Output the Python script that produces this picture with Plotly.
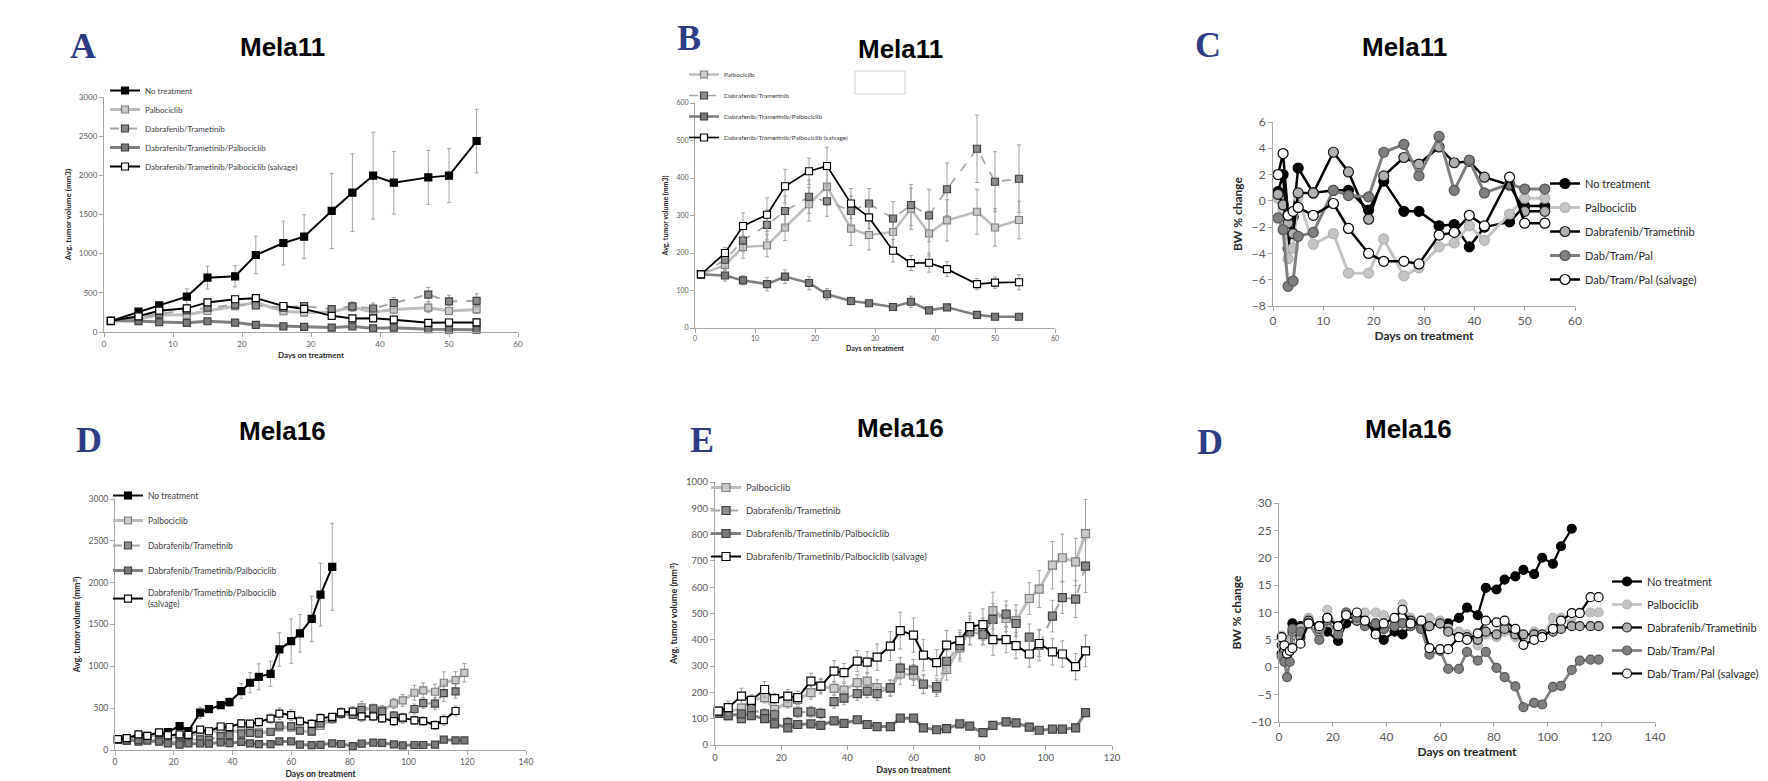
import plotly.graph_objects as go

W, H = 1768, 781

# ---------------- data: Mela11 tumour volume (panels A, B) ----------------
days11 = [1, 5, 8, 12, 15, 19, 22, 26, 29, 33, 36, 39, 42, 47, 50, 54]
tv11_none = [140, 260, 340, 451, 694, 711, 983, 1136, 1217, 1545, 1779, 1996, 1906, 1974, 1996, 2438]
tv11_none_err = [10, 20, 30, 100, 145, 135, 240, 280, 280, 480, 495, 555, 400, 345, 345, 405]
tv11_palbo = [143, 168, 216, 220, 268, 330, 377, 265, 248, 256, 318, 252, 287, 310, 268, 288]
tv11_palbo_err = [5, 15, 30, 30, 35, 45, 50, 45, 40, 40, 55, 60, 55, 60, 50, 50]
tv11_dt = [143, 182, 233, 275, 312, 350, 338, 312, 332, 292, 328, 300, 370, 478, 390, 398]
tv11_dt_err = [5, 20, 30, 40, 40, 45, 40, 40, 40, 45, 55, 70, 70, 90, 80, 90]
tv11_dtp = [143, 140, 127, 117, 137, 120, 90, 72, 66, 56, 70, 47, 55, 35, 30, 30]
tv11_dtp_err = [5, 15, 12, 18, 18, 18, 15, 10, 8, 8, 15, 8, 8, 5, 5, 8]
tv11_sal = [143, 200, 272, 302, 378, 418, 432, 332, 295, 206, 173, 174, 157, 117, 121, 122]
tv11_sal_err = [5, 15, 35, 45, 45, 35, 50, 40, 30, 30, 20, 25, 20, 15, 15, 20]

# ---------------- data: Mela11 body weight (panel C) ----------------
days_bw11 = [1, 2, 3, 4, 5, 8, 12, 15, 19, 22, 26, 29, 33, 36, 39, 42, 47, 50, 54]
bw11_none = [0.7, 2.0, -3.6, -1.2, 2.5, 0.6, 0.8, 0.8, -0.7, 1.5, -0.8, -0.8, -1.9, -1.8, -3.5, -2.0, -1.6, -0.4, -0.4]
bw11_palbo = [0.2, -0.6, -4.4, -3.6, 0.3, -3.3, -2.5, -5.5, -5.5, -2.9, -5.7, -5.1, -3.5, -3.2, -1.9, -3.0, -1.0, 0.2, 0.2]
bw11_dt = [0.5, -0.3, -1.7, -2.5, 0.6, 0.6, 3.7, 2.2, -1.4, 1.9, 3.3, 2.8, 4.1, 2.9, 3.0, 1.8, 1.2, -0.8, -0.8]
bw11_dtp = [-1.3, -2.2, -6.5, -6.1, -2.7, -2.4, 0.8, 0.4, 0.3, 3.7, 4.3, 1.9, 4.9, 0.8, 3.1, 0.6, 1.3, 0.9, 0.9]
bw11_sal = [2.0, 3.6, -1.1, -0.8, -0.5, -1.1, -0.2, -2.1, -4.0, -4.6, -4.6, -4.8, -2.6, -2.4, -1.1, -1.9, 1.8, -1.7, -1.7]

# ---------------- data: Mela16 tumour volume (panels D, E) ----------------
days16 = [1, 4, 8, 11, 15, 18, 22, 25, 29, 32, 36, 39, 43, 46, 49, 53, 56, 60, 63, 67, 70, 74,
          77, 81, 84, 88, 91, 95, 98, 102, 105, 109, 112, 116, 119]
tv16_none = [127, 135, 150, 160, 185, 215, 287, 227, 446, 489, 537, 573, 704, 804, 875, 911, 1202, 1301,
             1393, 1568, 1858, 2189]
tv16_none_err = [10, 10, 12, 15, 20, 25, 30, 30, 67, 36, 30, 52, 90, 120, 155, 150, 200, 265, 225, 270, 375, 520]
tv16_palbo = [129, 125, 140, 170, 180, 135, 161, 173, 199, 224, 215, 209, 237, 243, 218, 215, 271, 266, 230,
              215, 287, 369, 443, 433, 511, 481, 473, 557, 593, 684, 712, 696, 804, 836, 923]
tv16_palbo_err = [10, 15, 15, 20, 20, 15, 20, 20, 25, 25, 25, 25, 30, 30, 30, 30, 40, 40, 35, 30, 40, 50, 60,
                  50, 70, 50, 60, 60, 70, 90, 90, 90, 130, 100, 110]
tv16_dt = [120, 112, 100, 135, 118, 115, 85, 125, 126, 120, 165, 178, 195, 205, 195, 218, 292, 285, 232, 222,
           318, 378, 430, 420, 478, 498, 462, 410, 380, 490, 560, 555, 680, 700]
tv16_dt_err = [10, 12, 15, 20, 20, 20, 20, 20, 20, 20, 25, 25, 25, 25, 25, 30, 40, 40, 35, 30, 40, 50, 50, 40,
               60, 50, 50, 50, 60, 60, 60, 70, 100, 80]
tv16_dtp = [120, 112, 118, 112, 100, 80, 65, 78, 80, 75, 92, 82, 96, 78, 70, 70, 102, 102, 65, 58, 62, 80, 72,
            47, 75, 88, 84, 68, 56, 60, 60, 65, 123, 115, 115]
tv16_dtp_err = [8, 10, 12, 12, 12, 10, 10, 10, 10, 10, 12, 12, 12, 10, 10, 10, 12, 12, 10, 10, 10, 10, 10, 10,
                10, 12, 12, 12, 10, 10, 10, 10, 15, 15, 15]
tv16_sal = [129, 142, 186, 170, 211, 176, 186, 180, 243, 224, 281, 275, 319, 315, 334, 376, 435, 418, 342, 313,
            380, 397, 450, 458, 401, 401, 378, 346, 386, 354, 346, 298, 358, 466]
tv16_sal_err = [10, 25, 30, 20, 30, 20, 25, 25, 30, 30, 40, 35, 40, 40, 50, 55, 70, 65, 60, 50, 55, 40, 40, 60,
                60, 50, 50, 50, 50, 50, 50, 50, 60, 60]
last_day_E = 112

# ---------------- data: Mela16 body weight (panel F) ----------------
days_bw16 = [1, 2, 3, 4, 5, 8, 11, 15, 18, 22, 25, 29, 32, 36, 39, 43, 46, 49, 53, 56, 60, 63, 67, 70, 74,
             77, 81, 84, 88, 91, 95, 98, 102, 105, 109, 112, 116, 119]
bw16_none = [2.5, 2.0, 1.5, 5.0, 8.0, 7.5, 8.5, 7.5, 6.5, 4.8, 8.0, 8.5, 8.0, 7.0, 5.0, 6.5, 6.0, 7.5, 7.0, 7.5,
             8.0, 8.0, 9.0, 10.9, 9.5, 14.5, 14.2, 16.0, 16.6, 17.8, 17.0, 20.0, 18.9, 22.1, 25.3]
bw16_palbo = [5.8, 5.0, 3.5, 4.5, 6.0, 7.0, 9.0, 6.0, 10.5, 7.0, 10.0, 9.0, 10.0, 10.0, 9.5, 8.5, 11.5, 9.0,
              8.5, 9.0, 8.5, 7.0, 6.5, 6.0, 4.0, 6.0, 5.5, 6.5, 5.5, 5.5, 6.5, 5.5, 9.0, 9.0, 8.0, 10.0, 10.0, 10.0]
bw16_dt = [4.0, 3.0, 2.0, 3.0, 6.5, 5.5, 8.5, 7.0, 9.0, 7.5, 9.5, 8.5, 8.0, 8.0, 7.0, 7.5, 8.0, 8.5, 7.5, 7.5,
           8.0, 6.5, 5.5, 5.5, 5.0, 6.5, 6.0, 7.0, 6.0, 6.0, 6.0, 6.0, 6.5, 7.0, 7.5, 7.5, 7.5, 7.5]
bw16_dtp = [2.0, 1.0, -1.8, 1.0, 7.0, 6.5, 8.0, 5.0, 8.5, 6.0, 10.0, 9.0, 7.5, 8.0, 7.0, 7.5, 8.0, 7.5, 7.0,
            2.3, 3.0, -0.3, -0.3, 2.8, 1.2, 2.8, -0.1, -1.8, -3.5, -7.3, -6.5, -6.8, -3.6, -3.4, -0.5, 1.2, 1.4, 1.4]
bw16_sal = [5.5, 4.0, 2.5, 3.0, 3.5, 4.3, 8.0, 7.5, 9.0, 7.5, 9.5, 10.0, 8.5, 6.0, 8.0, 9.0, 10.5, 8.0, 8.5,
            3.5, 3.3, 3.3, 5.5, 5.0, 6.2, 8.5, 8.2, 8.5, 7.0, 4.1, 5.0, 5.5, 7.0, 8.5, 9.9, 9.9, 12.8, 12.8]

# legend labels
names_long = ["No treatment", "Palbociclib", "Dabrafenib/Trametinib",
              "Dabrafenib/Trametinib/Palbociclib", "Dabrafenib/Trametinib/Palbociclib (salvage)"]
names_long_D = names_long[:4] + ["Dabrafenib/Trametinib/Palbociclib<br>(salvage)"]
names_short = ["No treatment", "Palbociclib", "Dabrafenib/Trametinib", "Dab/Tram/Pal", "Dab/Tram/Pal (salvage)"]

# ---------------- styling ----------------
FONT = "Lato"
TICK_COL = "#595959"
AX_COL = "#a6a6a6"
ERR_COL = "#a0a0a0"

sq_styles = [
    dict(fill="#000000", edge="#000000", line="#000000", lw=2, dash="solid"),
    dict(fill="#cacaca", edge="#7f7f7f", line="#bdbdbd", lw=3, dash="solid"),
    dict(fill="#8c8c8c", edge="#404040", line="#a6a6a6", lw=2, dash="dash"),
    dict(fill="#7a7a7a", edge="#404040", line="#808080", lw=3, dash="solid"),
    dict(fill="#ffffff", edge="#000000", line="#000000", lw=2, dash="solid"),
]
circ_styles = [
    dict(fill="#000000", edge="#000000", line="#000000", lw=2.5, dash="solid"),
    dict(fill="#c4c4c4", edge="#b0b0b0", line="#c4c4c4", lw=3, dash="solid"),
    dict(fill="#b0b0b0", edge="#1a1a1a", line="#000000", lw=2.5, dash="solid"),
    dict(fill="#7f7f7f", edge="#555555", line="#7f7f7f", lw=3, dash="solid"),
    dict(fill="#ffffff", edge="#000000", line="#000000", lw=2.5, dash="solid"),
]

fig = go.Figure()


def add(idx, x, y, err, style, name, legend, symbol, size, lwscale=1.0, gid=""):
    ax = "" if idx == 1 else str(idx)
    tr = dict(
        x=x, y=y, name=name, mode="lines+markers",
        xaxis="x" + ax, yaxis="y" + ax, legend=legend, legendgroup=gid,
        line=dict(color=style["line"], width=style["lw"] * lwscale, dash=style["dash"]),
        marker=dict(symbol=symbol, size=size, color=style["fill"],
                    line=dict(color=style["edge"], width=1.2)),
        cliponaxis=False,
    )
    if err is not None:
        tr["error_y"] = dict(type="data", array=err, color=ERR_COL, thickness=1, width=2)
    fig.add_trace(go.Scatter(**tr))


# Panel A
tvA = [(tv11_none, tv11_none_err), (tv11_palbo, tv11_palbo_err), (tv11_dt, tv11_dt_err),
       (tv11_dtp, tv11_dtp_err), (tv11_sal, tv11_sal_err)]
for k, (vals, err) in enumerate(tvA):
    add(1, days11, vals, err, sq_styles[k], names_long[k], "legend", "square", 7, gid=f"A{k}")
# Panel B
for k, (vals, err) in enumerate(tvA[1:], start=1):
    add(2, days11, vals, err, sq_styles[k], names_long[k], "legend2", "square", 7, lwscale=0.85, gid=f"B{k}")
# Panel C
bwC = [bw11_none, bw11_palbo, bw11_dt, bw11_dtp, bw11_sal]
for k, vals in enumerate(bwC):
    add(3, days_bw11, vals, None, circ_styles[k], names_short[k], "legend3", "circle", 10, gid=f"C{k}")
# Panel D
tvD = [(tv16_none, tv16_none_err), (tv16_palbo, tv16_palbo_err), (tv16_dt, tv16_dt_err),
       (tv16_dtp, tv16_dtp_err), (tv16_sal, tv16_sal_err)]
for k, (vals, err) in enumerate(tvD):
    n = len(vals)
    add(4, days16[:n], vals, err, sq_styles[k], names_long_D[k], "legend4", "square", 7, gid=f"D{k}")
# Panel E
for k, (vals, err) in enumerate(tvD[1:], start=1):
    n = sum(1 for d in days16[:len(vals)] if d <= last_day_E)
    add(5, days16[:n], vals[:n], err[:n], sq_styles[k], names_long[k], "legend5", "square", 8, gid=f"E{k}")
# Panel F
bwF = [bw16_none, bw16_palbo, bw16_dt, bw16_dtp, bw16_sal]
for k, vals in enumerate(bwF):
    add(6, days_bw16[:len(vals)], vals, None, circ_styles[k], names_short[k], "legend6", "circle", 9, lwscale=0.9, gid=f"F{k}")


# ---------------- axes ----------------
def axes(idx, xpx, ypx, xr, xd, yr, yd, tfs, ttfs, ytitle, xtitle="Days on treatment"):
    ax = "" if idx == 1 else str(idx)
    common = dict(showline=True, linecolor=AX_COL, linewidth=1, ticks="outside", ticklen=4,
                  tickcolor=AX_COL, showgrid=False, zeroline=False,
                  tickfont=dict(family=FONT, size=tfs, color=TICK_COL))
    fig.layout["xaxis" + ax] = dict(
        domain=[xpx[0] / W, xpx[1] / W], range=xr, dtick=xd, tick0=0, anchor="y" + ax,
        title=dict(text="<b>" + xtitle + "</b>", font=dict(family=FONT, size=ttfs, color="#262626"), standoff=4),
        **common)
    fig.layout["yaxis" + ax] = dict(
        domain=[1 - ypx[1] / H, 1 - ypx[0] / H], range=yr, dtick=yd, tick0=0, anchor="x" + ax,
        title=dict(text="<b>" + ytitle + "</b>", font=dict(family=FONT, size=ttfs, color="#262626"), standoff=6),
        **common)


axes(1, (96, 510), (89, 324), [0, 60], 10, [0, 3000], 500, 8, 8, "Avg. tumor volume (mm3)")
axes(2, (687, 1047), (95, 320), [0, 60], 10, [0, 600], 100, 7, 7, "Avg. tumor volume (mm3)")
axes(3, (1265, 1567), (114, 298), [0, 60], 10, [-8, 6], 2, 12, 12, "BW % change")
axes(4, (107, 518), (491, 742), [0, 140], 20, [0, 3000], 500, 8.5, 8.5, "Avg. tumor volume (mm<sup>3</sup>)")
axes(5, (707, 1104), (474, 737), [0, 120], 20, [0, 1000], 100, 9.5, 9, "Avg. tumor volume (mm<sup>3</sup>)")
axes(6, (1271, 1647), (495, 714), [0, 140], 20, [-10, 30], 5, 12, 12, "BW % change")


# ---------------- legends ----------------
def legend(xpx, ypx, fs, gap, color="#404040"):
    return dict(x=xpx / W, y=1 - ypx / H, xanchor="left", yanchor="top", xref="paper", yref="paper",
                font=dict(family=FONT, size=fs, color=color), bgcolor="rgba(0,0,0,0)",
                borderwidth=0, tracegroupgap=gap, itemwidth=30, traceorder="grouped")


fig.update_layout(
    legend=legend(97, 68, 8, 0),
    legend2=legend(676, 52, 6.5, 2),
    legend3=legend(1537, 161, 11, 5, "#262626"),
    legend4=legend(100, 473, 8.5, 6),
    legend5=legend(698, 465, 9.5, 4),
    legend6=legend(1599, 559, 11, 4, "#262626"),
)

# ---------------- panel letters & titles ----------------
letters = [("A", 75, 38), ("B", 681, 30), ("C", 1200, 37), ("D", 81, 432), ("E", 694, 432), ("D", 1202, 434)]
titles = [("Mela11", 274, 39), ("Mela11", 892, 41), ("Mela11", 1396, 39),
          ("Mela16", 274, 423), ("Mela16", 892, 420), ("Mela16", 1400, 421)]
for t, x, y in letters:
    fig.add_annotation(text="<b>" + t + "</b>", x=x / W, y=1 - y / H, xref="paper", yref="paper",
                       showarrow=False, xanchor="center", yanchor="middle",
                       font=dict(family="Liberation Serif", size=36, color="#2E3C85"))
for t, x, y in titles:
    fig.add_annotation(text="<b>" + t + "</b>", x=x / W, y=1 - y / H, xref="paper", yref="paper",
                       showarrow=False, xanchor="center", yanchor="middle",
                       font=dict(family="Liberation Sans", size=26, color="#000000"))

# faint empty box in panel B
fig.add_shape(type="rect", xref="paper", yref="paper", x0=847 / W, x1=897 / W, y0=1 - 86 / H, y1=1 - 63 / H,
              line=dict(color="#d0d0d0", width=1), fillcolor="rgba(0,0,0,0)")

fig.update_layout(width=W, height=H, margin=dict(l=0, r=0, t=0, b=0, autoexpand=False),
                  paper_bgcolor="white", plot_bgcolor="white", showlegend=True,
                  font=dict(family=FONT))

fig.write_html("out.html")
